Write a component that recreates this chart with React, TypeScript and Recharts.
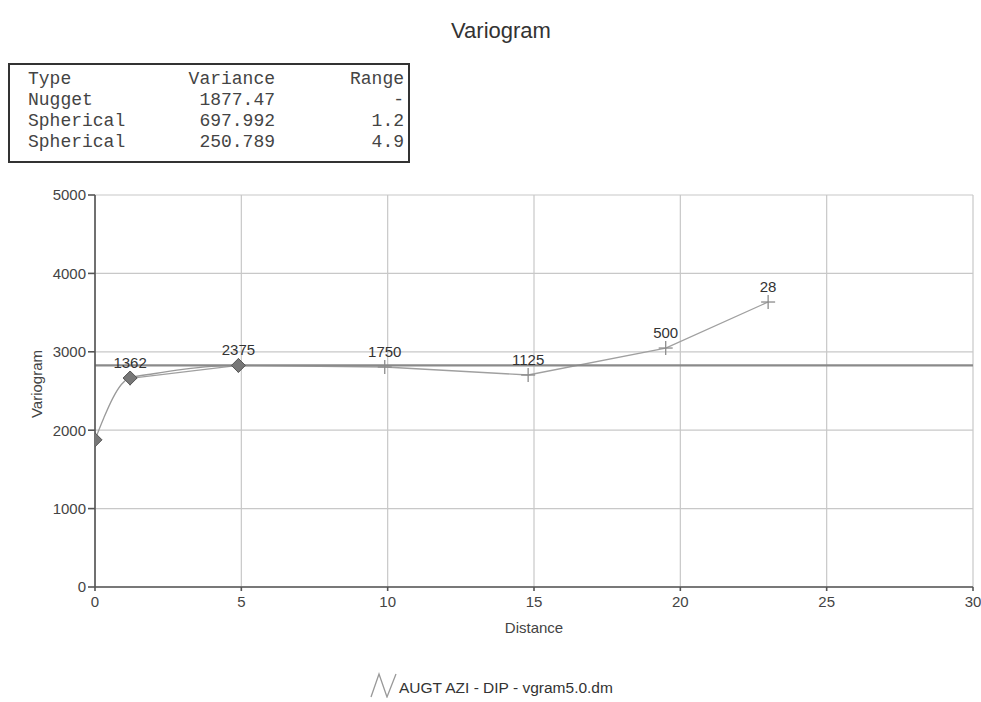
import {
  ComposedChart, Line, XAxis, YAxis, CartesianGrid, ReferenceLine, LabelList,
} from 'recharts';

// model structures (table above the chart)
const modelTypes = ['Nugget', 'Spherical', 'Spherical'];
const modelVariances = ['1877.47', '697.992', '250.789'];
const modelRanges = ['-', '1.2', '4.9'];

// experimental variogram: lag distance, value, number of pairs
const expLags = [1.2, 4.9, 9.9, 14.8, 19.5, 23.0];
const expGamma = [2660, 2826, 2806, 2704, 3048, 3635];
const expPairs = [1362, 2375, 1750, 1125, 500, 28];

// fitted model curve
const modelLags = [0, 0.3, 0.6, 0.9, 1.2, 2, 3, 4, 4.9];
const modelGamma = [1877, 2156, 2403, 2583, 2666, 2720, 2777, 2814, 2826];

// diamond markers on the model at the structure ranges
const markerLags = [0, 1.2, 4.9];
const markerGamma = [1877, 2666, 2826];

const sill = 2826;
const xTicks = [0, 5, 10, 15, 20, 25, 30];
const yTicks = [0, 1000, 2000, 3000, 4000, 5000];

const expData = expLags.map((x, i) => ({ x, gamma: expGamma[i], pairs: expPairs[i] }));
const modelData = modelLags.map((x, i) => ({ x, gamma: modelGamma[i] }));
const markerData = markerLags.map((x, i) => ({ x, gamma: markerGamma[i] }));

const Cross = (props: any) => {
  const { cx, cy, index } = props;
  if (cx == null || cy == null) return null;
  const s = 7;
  return (
    <g key={`c-${index}`}>
      <line x1={cx - s} y1={cy} x2={cx + s} y2={cy} stroke="#8c8c8c" strokeWidth={1.3} />
      <line x1={cx} y1={cy - s} x2={cx} y2={cy + s} stroke="#8c8c8c" strokeWidth={1.3} />
    </g>
  );
};

const Diamond = (props: any) => {
  const { cx, cy, index } = props;
  if (cx == null || cy == null) return null;
  const s = 7;
  return (
    <polygon
      key={`d-${index}`}
      points={`${cx},${cy - s} ${cx + s},${cy} ${cx},${cy + s} ${cx - s},${cy}`}
      fill="#777"
      stroke="#555"
      strokeWidth={1}
    />
  );
};

const YW = 60;
const XH = 50;

export default function App() {
  return (
    <div
      style={{
        position: 'absolute', left: 0, top: 0, width: 981, height: 702,
        background: '#fff', fontFamily: '"Liberation Sans", Arial, sans-serif', color: '#333',
      }}
    >
      {/* title */}
      <div style={{ position: 'absolute', left: 0, width: 1002, top: 18, textAlign: 'center', fontSize: 22, color: '#333' }}>
        Variogram
      </div>

      {/* model table */}
      <div
        style={{
          position: 'absolute', left: 8, top: 63, width: 402, height: 100, boxSizing: 'border-box',
          border: '2px solid #333', fontFamily: '"Liberation Mono", "Courier New", monospace',
          fontSize: 18, color: '#444',
        }}
      >
        {['Type', ...modelTypes].map((t, i) => (
          <div key={`r-${i}`} style={{ position: 'absolute', top: 4 + i * 21, left: 0, width: '100%', height: 21, lineHeight: '21px' }}>
            <span style={{ position: 'absolute', left: 18 }}>{t}</span>
            <span style={{ position: 'absolute', right: 133, textAlign: 'right' }}>
              {i === 0 ? 'Variance' : modelVariances[i - 1]}
            </span>
            <span style={{ position: 'absolute', right: 4, textAlign: 'right' }}>
              {i === 0 ? 'Range' : modelRanges[i - 1]}
            </span>
          </div>
        ))}
      </div>

      {/* y axis title */}
      <div
        style={{
          position: 'absolute', left: 36, top: 384, fontSize: 15, color: '#444',
          transform: 'translate(-50%, -50%) rotate(-90deg)', whiteSpace: 'nowrap',
        }}
      >
        Variogram
      </div>

      <div style={{ position: 'absolute', left: 0, top: 0 }}>
        <ComposedChart
          width={981}
          height={702}
          margin={{ top: 195, right: 8, bottom: 115 - XH, left: 95 - YW }}
        >
          <CartesianGrid stroke="#c8c8c8" strokeWidth={1.2} />
          <XAxis
            type="number"
            dataKey="x"
            domain={[0, 30]}
            ticks={xTicks}
            allowDataOverflow
            height={XH}
            stroke="#555"
            strokeWidth={1.6}
            tickSize={4}
            tickMargin={5}
            tick={{ fill: '#444', fontSize: 15 }}
            label={{ value: 'Distance', position: 'insideBottom', offset: 4, fill: '#444', fontSize: 15 }}
          />
          <YAxis
            type="number"
            domain={[0, 5000]}
            ticks={yTicks}
            allowDataOverflow
            width={YW}
            stroke="#555"
            strokeWidth={1.6}
            tickSize={7}
            tickMargin={2}
            tick={{ fill: '#444', fontSize: 15 }}
          />
          <Line
            data={modelData}
            dataKey="gamma"
            type="monotone"
            stroke="#9a9a9a"
            strokeWidth={1.3}
            dot={false}
            activeDot={false}
            isAnimationActive={false}
          />
          <Line
            data={expData}
            dataKey="gamma"
            type="linear"
            stroke="#a0a0a0"
            strokeWidth={1.3}
            dot={Cross}
            activeDot={false}
            isAnimationActive={false}
          >
            <LabelList dataKey="pairs" position="top" offset={10} fill="#333" fontSize={15} />
          </Line>
          <ReferenceLine y={sill} stroke="#8a8a8a" strokeWidth={2.2} />
          <Line
            data={markerData}
            dataKey="gamma"
            stroke="none"
            dot={Diamond}
            activeDot={false}
            isAnimationActive={false}
          />
        </ComposedChart>
      </div>

      {/* legend */}
      <div style={{ position: 'absolute', left: 370, top: 672, height: 26, display: 'flex', alignItems: 'center' }}>
        <svg width={28} height={26}>
          <polyline points="1,25 9,2 17,25 26,2" fill="none" stroke="#999" strokeWidth={1.3} />
        </svg>
        <span style={{ fontSize: 15.5, color: '#333', marginLeft: 1, marginTop: 6 }}>AUGT AZI - DIP - vgram5.0.dm</span>
      </div>
    </div>
  );
}
